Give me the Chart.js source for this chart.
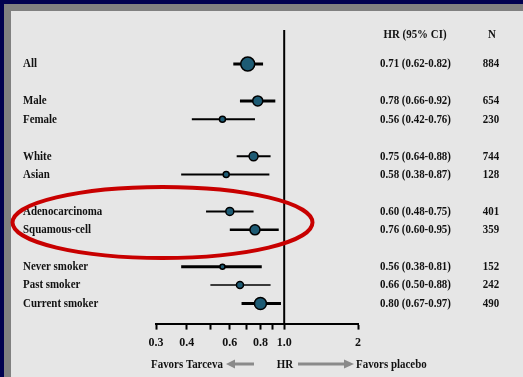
<!DOCTYPE html>
<html>
<head>
<meta charset="utf-8">
<script src="https://cdn.jsdelivr.net/npm/chart.js@4/dist/chart.umd.min.js"></script>
<style>
  html, body { margin: 0; padding: 0; background: #000050; }
  canvas { display: block; }
</style>
</head>
<body>
<canvas id="forest-chart" width="523" height="377"></canvas>
<script>
// subgroup data (row = vertical slot, blank slots separate groups)
const subgroups = ["All", "Male", "Female", "White", "Asian", "Adenocarcinoma", "Squamous-cell", "Never smoker", "Past smoker", "Current smoker"];
const rows = [0, 2, 3, 5, 6, 8, 9, 11, 12, 13];
const hrValues = [0.71, 0.78, 0.56, 0.75, 0.58, 0.60, 0.76, 0.56, 0.66, 0.80];
const ciLow = [0.62, 0.66, 0.42, 0.64, 0.38, 0.48, 0.60, 0.38, 0.50, 0.67];
const ciHigh = [0.82, 0.92, 0.76, 0.88, 0.87, 0.75, 0.95, 0.81, 0.88, 0.97];
const nValues = [884, 654, 230, 744, 128, 401, 359, 152, 242, 490];

const tickValues = [0.3, 0.4, 0.5, 0.6, 0.7, 0.8, 0.9, 1.0, 2];
const tickLabels = ["0.3", "0.4", "", "0.6", "", "0.8", "", "1.0", "2"];

// look of the marks
const markerRadius = [7, 5, 3, 4.5, 3, 4, 5, 2.5, 3.5, 6];
const ciWidth = [3, 3, 2, 2, 2, 2, 2.5, 3, 1.5, 3];
const Y_MIN = -1.85;
const Y_MAX = 14.09;

const FONT = "'Liberation Serif', 'Times New Roman', serif";
Chart.defaults.font.family = FONT;
Chart.defaults.color = "#111";

function fmt(v) {
  return v.toFixed(2);
}

// the source slide has its text a bit narrower than plain Times
function squeezedText(ctx, text, x, y, align) {
  ctx.save();
  ctx.translate(x, y);
  ctx.scale(0.84, 1);
  ctx.textAlign = align;
  ctx.textBaseline = "middle";
  ctx.fillText(text, 0, 0);
  ctx.restore();
}

function arrowHead(ctx, tipX, baseX, y) {
  ctx.beginPath();
  ctx.moveTo(tipX, y);
  ctx.lineTo(baseX, y - 4.5);
  ctx.lineTo(baseX, y + 4.5);
  ctx.closePath();
  ctx.fill();
}

const backdrop = {
  id: "backdrop",
  beforeDraw(chart) {
    const ctx = chart.ctx;
    ctx.save();
    ctx.fillStyle = "#000050";
    ctx.fillRect(0, 0, chart.width, chart.height);
    ctx.fillStyle = "#808080";
    ctx.fillRect(4, 4, chart.width, chart.height);
    ctx.fillStyle = "#e6e6e6";
    ctx.fillRect(11, 11, chart.width, chart.height);
    ctx.restore();
  },
};

const forestText = {
  id: "forestText",
  afterDraw(chart) {
    const ctx = chart.ctx;
    const y = chart.scales.y;
    ctx.save();
    ctx.fillStyle = "#111";
    ctx.font = "bold 13px " + FONT;

    squeezedText(ctx, "HR (95% CI)", 415, 35, "center");
    squeezedText(ctx, "N", 492, 35, "center");

    subgroups.forEach((name, i) => {
      const py = y.getPixelForValue(rows[i]);
      squeezedText(ctx, name, 23, py, "left");
      squeezedText(ctx, fmt(hrValues[i]) + " (" + fmt(ciLow[i]) + "-" + fmt(ciHigh[i]) + ")", 380, py, "left");
      squeezedText(ctx, String(nValues[i]), 491, py, "center");
    });

    // favours line under the axis
    squeezedText(ctx, "Favors Tarceva", 151, 365, "left");
    squeezedText(ctx, "HR", 285, 365, "center");
    squeezedText(ctx, "Favors placebo", 356, 365, "left");
    ctx.strokeStyle = "#8a8a8a";
    ctx.fillStyle = "#8a8a8a";
    ctx.lineWidth = 3;
    ctx.beginPath();
    ctx.moveTo(234, 364);
    ctx.lineTo(254, 364);
    ctx.moveTo(298, 364);
    ctx.lineTo(345, 364);
    ctx.stroke();
    arrowHead(ctx, 226, 235, 364);
    arrowHead(ctx, 354, 344, 364);

    // highlight round the histology rows
    ctx.strokeStyle = "#c80000";
    ctx.lineWidth = 4;
    ctx.beginPath();
    ctx.ellipse(162.5, 222.5, 150, 35.5, 0, 0, Math.PI * 2);
    ctx.stroke();
    ctx.restore();
  },
};

const ciDatasets = subgroups.map((name, i) => ({
  type: "line",
  label: name + " CI",
  data: [
    { x: ciLow[i], y: rows[i] },
    { x: ciHigh[i], y: rows[i] },
  ],
  borderColor: "#000",
  borderWidth: ciWidth[i],
  pointRadius: 0,
  order: 1,
}));

const ctx = document.getElementById("forest-chart").getContext("2d");
new Chart(ctx, {
  type: "scatter",
  data: {
    datasets: [
      {
        label: "HR",
        data: hrValues.map((v, i) => ({ x: v, y: rows[i] })),
        pointRadius: markerRadius,
        backgroundColor: "#1d5b74",
        borderColor: "#000",
        borderWidth: 1.5,
        order: 0,
      },
      ...ciDatasets,
      {
        type: "line",
        label: "No effect",
        data: [
          { x: 1, y: Y_MIN },
          { x: 1, y: Y_MAX },
        ],
        borderColor: "#000",
        borderWidth: 2,
        pointRadius: 0,
        order: 2,
      },
    ],
  },
  options: {
    responsive: false,
    animation: false,
    events: [],
    layout: {
      padding: { left: 156, right: 165, top: 30, bottom: 21 },
    },
    plugins: {
      legend: { display: false },
      tooltip: { enabled: false },
    },
    scales: {
      x: {
        type: "logarithmic",
        min: 0.3,
        max: 2,
        afterBuildTicks: (scale) => {
          scale.ticks = tickValues.map((v) => ({ value: v }));
        },
        grid: {
          drawOnChartArea: false,
          drawTicks: true,
          tickLength: 6,
          tickWidth: 2,
          tickColor: "#000",
        },
        border: { display: true, color: "#000", width: 2 },
        ticks: {
          autoSkip: false,
          maxRotation: 0,
          padding: 6,
          color: "#111",
          font: { size: 12, weight: "bold" },
          callback: (value, index) => tickLabels[index],
        },
      },
      y: {
        type: "linear",
        display: false,
        reverse: true,
        min: Y_MIN,
        max: Y_MAX,
      },
    },
  },
  plugins: [backdrop, forestText],
});
</script>
</body>
</html>
